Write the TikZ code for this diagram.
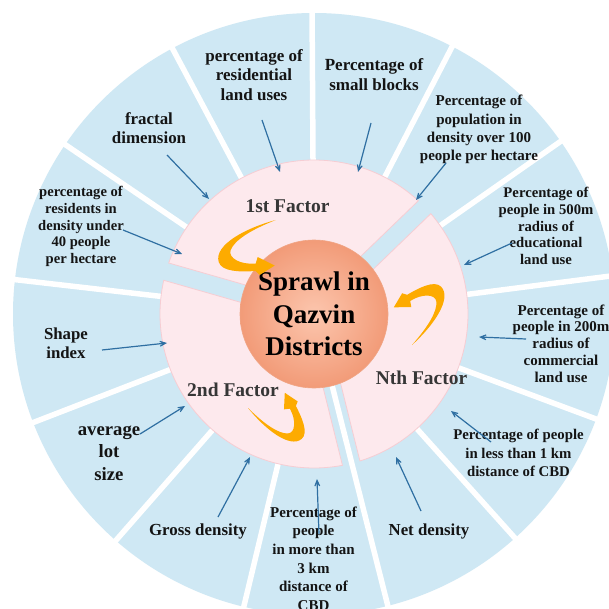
\documentclass[tikz,border=0pt]{standalone}
\usepackage{fontspec}
\setmainfont{Liberation Serif}
\usetikzlibrary{arrows.meta,calc}

\definecolor{bluefill}{HTML}{CFE8F4}
\definecolor{pinkfill}{HTML}{FDE9ED}
\definecolor{pinkedge}{HTML}{F6CDD3}
\definecolor{arrowblue}{HTML}{2F6FA2}
\definecolor{goldfill}{HTML}{FDAB00}
\definecolor{circin}{HTML}{FCC6AE}
\definecolor{circout}{HTML}{F29B78}
\definecolor{circedge}{HTML}{F0A585}
\definecolor{labeltext}{HTML}{141414}
\definecolor{factortext}{HTML}{363636}

\tikzset{
  lbl/.style n args={2}{align=center, text=labeltext, inner sep=0pt,
    font=\bfseries\fontsize{#1}{#2}\selectfont},
  factorlbl/.style={text=factortext, inner sep=0pt,
    font=\bfseries\fontsize{19.5}{22}\selectfont},
  pointer/.style={draw=arrowblue, line width=1.2pt,
    -{Stealth[length=13pt, width=11pt, inset=9pt]}},
  gapline/.style={draw=white, line width=5.5pt},
  pinksector/.style={fill=pinkfill, draw=pinkedge, line width=0.8pt},
  goldarrow/.pic={
    \fill[goldfill] (0,0) .. controls (-30,8) and (-62,25) .. (-57,42)
      .. controls (-54,52) and (-35,52) .. (-20,51) -- (-16,55) -- (-1,45.5)
      -- (-18,37) -- (-20,43.5) .. controls (-35,45) and (-48,38) .. (-45,30)
      .. controls (-41,20) and (-25,10) .. (0,0) -- cycle;
  }
}

\begin{document}
\begin{tikzpicture}[x=1pt,y=-1pt]
\useasboundingbox (0,0) rectangle (609,609);
\clip (0,0) rectangle (609,609);
\fill[white] (0,0) rectangle (609,609);

\coordinate (c) at (314,314);

% outer blue ring
\fill[bluefill] (c) circle[radius=301];
\foreach \k in {0,...,12}{
  \draw[gapline] (c) -- ($(c)+({-(7.3+27.69*\k)}:303)$);
}

% pink factor sectors (visual angles: 44-164, 164-284, 284-404)
\foreach \a/\b/\m in {44/164/104, 164/284/224, 284/404/344}{
  \filldraw[pinksector] ($(c)+({-\m}:10.4)$) -- ($(c)+({-(\a+3.35)}:154)$)
    arc[start angle={-(\a+3.35)}, end angle={-(\b-3.35)}, radius=154] -- cycle;
}

% centre circle
\node[circle, minimum size=148pt, inner sep=0pt, inner color=circin, outer color=circout,
      draw=circedge, line width=0.6pt, align=center, text=black,
      font=\bfseries\fontsize{27}{32.5}\selectfont] (core) at (c) {Sprawl in\\Qazvin\\Districts};

% factor labels
\node[factorlbl] (f1) at (287.5,206) {1st Factor};
\node[factorlbl] (f2) at (233,390) {2nd Factor};
\node[factorlbl] (fn) at (421.5,378) {Nth Factor};

% gold curved arrows
\pic at (275.7,220) {goldarrow};
\pic[rotate=207, scale=0.92] at (412,345) {goldarrow};
\pic[rotate=113.75, scale=0.875] at (248,408) {goldarrow};

% indicator labels
\node[lbl={17}{19.5}] (l1) at (254,75) {percentage of\\residential\\land uses};
\node[lbl={17}{20}] (l2) at (374,75) {Percentage of\\small blocks};
\node[lbl={15}{18.3}] (l3) at (479,129.5) {Percentage of\\population in\\density over 100\\people per hectare};
\node[lbl={14.7}{16.7}] (l4) at (546,226) {Percentage of\\people in 500m\\radius of\\educational\\land use};
\node[lbl={15}{16.7}] (l5) at (561,343.5) {Percentage of\\people in 200m\\radius of\\commercial\\land use};
\node[lbl={14.8}{18.3}] (l6) at (518.5,453) {Percentage of people\\in less than 1 km\\distance of CBD};
\node[lbl={16.8}{19}] (l7) at (429,531) {Net density};
\node[lbl={15}{18.6}] (l8) at (313.5,558.5) {Percentage of\\people\\in more than\\3 km\\distance of\\CBD};
\node[lbl={16.9}{19}] (l9) at (198,531) {Gross density};
\node[lbl={18.7}{22.5}] (l10) at (109,453) {average\\lot\\size};
\node[lbl={16.8}{19}] (l11) at (66,343.5) {Shape\\index};
\node[lbl={14.6}{16.7}] (l12) at (81,226.5) {percentage of\\residents in\\density under\\40 people\\per hectare};
\node[lbl={16.9}{19}] (l13) at (149,128.5) {fractal\\dimension};

% connector end points
\coordinate (s1) at (262,120);  \coordinate (e1) at (280,172);
\coordinate (s2) at (371,123);  \coordinate (e2) at (358,172);
\coordinate (s3) at (446,163);  \coordinate (e3) at (416,200);
\coordinate (s4) at (512,243);  \coordinate (e4) at (464,265);
\coordinate (s5) at (526,339);  \coordinate (e5) at (479,337);
\coordinate (s6) at (491,442);  \coordinate (e6) at (451,411);
\coordinate (s7) at (421,511);  \coordinate (e7) at (396,457);
\coordinate (s8) at (319,534);  \coordinate (e8) at (317,479);
\coordinate (s9) at (218,517);  \coordinate (e9) at (250,457);
\coordinate (s10) at (140,434); \coordinate (e10) at (185,406);
\coordinate (s11) at (102,350); \coordinate (e11) at (167,343);
\coordinate (s12) at (123,230); \coordinate (e12) at (182,254);
\coordinate (s13) at (167,155); \coordinate (e13) at (209,199);

\foreach \i in {1,...,13}{
  \draw[pointer] (s\i) -- (e\i);
}
\end{tikzpicture}
\end{document}
